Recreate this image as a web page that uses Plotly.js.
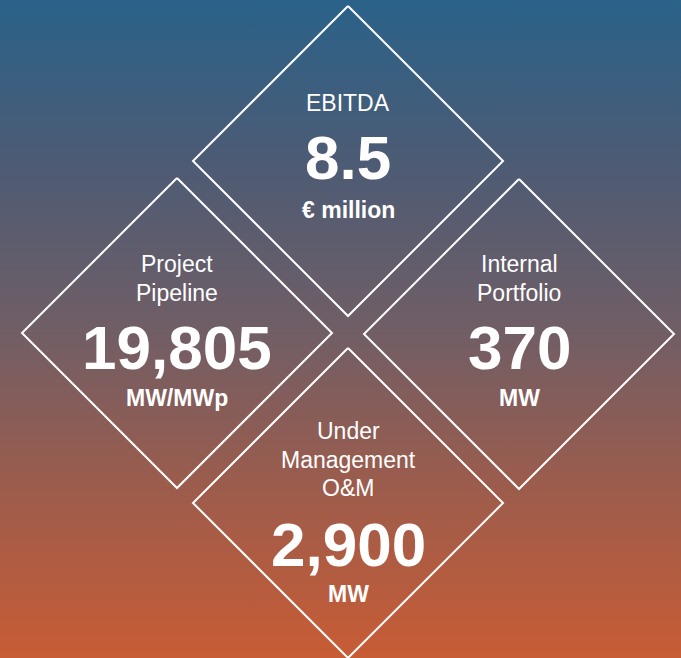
<!DOCTYPE html>
<html>
<head>
<meta charset="utf-8">
<script src="https://cdn.plot.ly/plotly-3.0.1.min.js"></script>
<style>
  html, body { margin: 0; padding: 0; }
  body {
    width: 681px; height: 658px; overflow: hidden;
    background: linear-gradient(to bottom, #2a6289 0%, #4d5b74 25%, #705e66 50%, #9e5c4b 75%, #c85c35 100%);
  }
</style>
</head>
<body>
<div id="chart"></div>
<script>
// KPI data
const labels = [["EBITDA"], ["Project", "Pipeline"], ["Internal", "Portfolio"], ["Under", "Management", "O&M"]];
const values = ["8.5", "19,805", "370", "2,900"];
const units = ["€ million", "MW/MWp", "MW", "MW"];

// layout of the tiles (pixel space, y grows downwards)
const centerX = [348, 177, 519, 348];
const centerY = [161, 333, 334, 503];
const half = 155;
const labelY = [[103], [264, 293], [264, 293], [431, 460, 488]];
const valueY = [157, 347, 347, 544];
const unitY = [210, 398, 398, 594];

let traces = [];
let annotations = [];

for (let i = 0; i < values.length; i++) {
    const cx = centerX[i], cy = centerY[i];
    // diamond outline
    traces.push({
        x: [cx, cx + half, cx, cx - half, cx],
        y: [cy - half, cy, cy + half, cy, cy - half],
        mode: 'lines',
        line: { color: '#ffffff', width: 2 },
        hoverinfo: 'skip',
        showlegend: false
    });

    // label lines
    labels[i].forEach((txt, j) => {
        annotations.push({
            x: cx, y: labelY[i][j], text: txt, showarrow: false,
            xanchor: 'center', yanchor: 'middle',
            font: { family: 'Liberation Sans, Arial, sans-serif', size: 23, color: '#ffffff' }
        });
    });

    // big value
    annotations.push({
        x: cx, y: valueY[i], text: '<b>' + values[i] + '</b>', showarrow: false,
        xanchor: 'center', yanchor: 'middle',
        font: { family: 'Liberation Sans, Arial, sans-serif', size: 62, color: '#ffffff' }
    });

    // unit
    annotations.push({
        x: cx, y: unitY[i], text: '<b>' + units[i] + '</b>', showarrow: false,
        xanchor: 'center', yanchor: 'middle',
        font: { family: 'Liberation Sans, Arial, sans-serif', size: 23, color: '#ffffff' }
    });
}

const layout = {
    width: 681,
    height: 658,
    margin: { l: 0, r: 0, t: 0, b: 0 },
    paper_bgcolor: 'rgba(0,0,0,0)',
    plot_bgcolor: 'rgba(0,0,0,0)',
    xaxis: { range: [0, 681], visible: false, fixedrange: true },
    yaxis: { range: [658, 0], visible: false, fixedrange: true },
    annotations: annotations,
    showlegend: false
};

Plotly.newPlot('chart', traces, layout, { displayModeBar: false, staticPlot: true });
</script>
</body>
</html>
